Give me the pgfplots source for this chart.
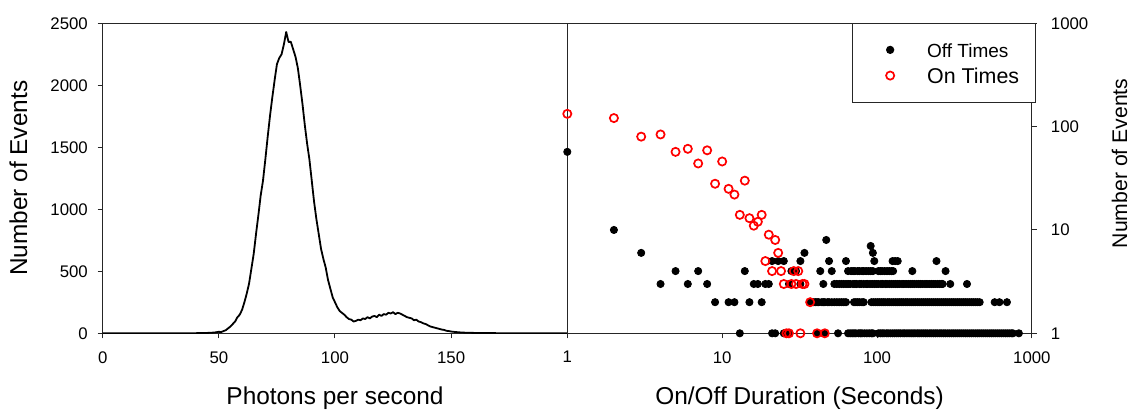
\documentclass[border=0pt]{standalone}
\usepackage{fontspec}
\setmainfont{Liberation Sans}
\usepackage{pgfplots}
\pgfplotsset{compat=1.18}
\begin{document}
\begin{tikzpicture}
\path[use as bounding box] (0pt,0pt) rectangle (566pt,205.5pt);
\pgfplotsset{
  panel/.style={
    scale only axis, width=232.3pt, height=155pt,
    axis line style={line width=0.5pt, black!85},
    every tick/.style={line width=0.5pt, black!85},
    tick align=outside, major tick length=2.5pt, minor tick length=0pt,
    ticklabel style={font=\fontsize{8.4}{10}\selectfont},
    /pgf/number format/assume math mode=true,
    /pgf/number format/1000 sep={},
    label style={font=\fontsize{12.2}{14}\selectfont},
  }
}
% ---------------- left panel ----------------
\begin{axis}[panel,
  at={(51.35pt,38.85pt)}, anchor=south west,
  xmin=0, xmax=200, ymin=0, ymax=2500,
  xtick={0,50,100,150}, ytick={0,500,1000,1500,2000,2500},
  xtick pos=bottom, ytick pos=left,
  xticklabel style={yshift=-3pt},
  yticklabel style={xshift=-1.4pt},
  xlabel={Photons per second},
  ylabel={Number of Events},
  xlabel style={at={(axis description cs:0.5,-0.2313)}, anchor=base},
  ylabel style={at={(axis description cs:-0.1817,0.5)}, anchor=center},
]
\addplot[black, line width=0.9pt, line join=round] coordinates {
(0,0) (30,0) (40,1) (45,3) (48,6) (50,12) (51,10) (52,18) (53,25) (54,40)
(55,55) (56,75) (57,95) (58,130) (59,150) (60,190) (61,250) (62,320) (63,400)
(64,520) (65,640) (66,800) (67,950) (68,1110) (69,1230) (70,1400) (71,1580)
(72,1750) (73,1900) (74,2040) (75,2170) (76,2220) (77,2250) (78,2330) (79,2430)
(80,2350) (81,2350) (82,2290) (83,2230) (84,2140) (85,2000) (86,1850) (87,1680)
(88,1530) (89,1400) (90,1230) (91,1060) (92,920) (93,800) (94,680) (95,600)
(96,530) (97,430) (98,360) (99,290) (100,250) (101,210) (102,180) (103,165)
(104,150) (105,130) (106,115) (107,110) (108,95) (109,100) (110,110) (111,105)
(112,120) (113,115) (114,130) (115,120) (116,135) (117,140) (118,130) (119,150)
(120,140) (121,155) (122,150) (123,165) (124,160) (125,170) (126,155) (127,165)
(128,160) (129,150) (130,140) (131,130) (132,125) (133,120) (134,105) (135,110)
(136,95) (137,90) (138,80) (139,75) (140,65) (141,55) (142,50) (143,45) (144,40)
(145,35) (146,30) (147,27) (148,20) (149,18) (150,14) (152,10) (154,7) (156,5)
(160,3) (165,2) (170,1) (180,0) (200,0)
};
\end{axis}
% ---------------- right panel ----------------
\begin{axis}[panel,
  at={(283.65pt,38.85pt)}, anchor=south west,
  xmode=log, ymode=log,
  xmin=1, xmax=1000, ymin=1, ymax=1000,
  xtick={1,10,100,1000}, xticklabels={1,10,100,1000},
  ytick={1,10,100,1000}, yticklabels={1,10,100,1000},
  xtick pos=bottom, ytick pos=right,
  xticklabel style={yshift=-3pt},
  yticklabel style={xshift=3.5pt},
  clip=false,
  xlabel={On/Off Duration (Seconds)},
  ylabel={Number of Events},
  xlabel style={at={(axis description cs:0.5,-0.2313)}, anchor=base},
  ylabel style={at={(axis description cs:1.1888,0.548)}, anchor=center,
    font=\fontsize{10.6}{12}\selectfont},
  legend image code/.code={\path[draw=none,fill=none] (0pt,-1pt) rectangle (29.5pt,1pt);
    \draw[#1] plot coordinates {(11pt,0pt)};},
  legend style={at={(1.008,1.002)}, anchor=north east, draw=black!85,
    line width=0.5pt, inner xsep=8pt, inner ysep=8.1pt, row sep=2.35pt,
    cells={anchor=west},
    nodes={inner sep=0pt, text height=9pt, text depth=1.5pt}},
]
\addlegendimage{only marks, mark=*, mark size=1.8pt, black}
\addlegendentry{\fontsize{9.5}{11}\selectfont Off Times}
\addlegendimage{only marks, mark=o, mark size=2.05pt, red, mark options={line width=0.85pt}}
\addlegendentry{\fontsize{10.7}{12}\selectfont On Times}
% Off times (black dots)
\addplot[only marks, mark=*, mark size=1.8pt, black, forget plot] coordinates {
(1,57) (2,10) (3,6) (34,6) (94,6) (91,7) (47,8)
(21,5) (23,5) (25,5) (32,5) (49,5) (63,5) (96,5) (126,5) (131,5) (136,5) (242,5)
(5,4) (7,4) (14,4) (28,4) (30,4) (43,4) (51,4)
(65,4) (68,4) (70,4) (72,4) (75,4) (77,4) (80,4) (82,4) (85,4) (88,4) (91,4) (94,4)
(102,4) (105,4) (108,4) (112,4) (116,4) (120,4) (124,4) (127,4) (169,4) (277,4)
(4,3) (6,3) (8,3) (16,3) (17,3) (19,3) (20,3) (27,3) (32,3) (45,3)
(53,3) (55,3) (57,3) (59,3) (61,3) (63,3) (65,3) (67,3) (70,3) (72,3) (74,3) (77,3)
(79,3) (82,3) (85,3) (87,3) (90,3) (93,3) (96,3) (99,3) (102,3) (106,3) (109,3)
(113,3) (116,3) (120,3) (124,3) (128,3) (132,3) (136,3) (140,3) (145,3) (149,3)
(154,3) (159,3) (164,3) (169,3) (174,3) (180,3) (186,3) (191,3) (197,3) (204,3)
(210,3) (217,3) (224,3) (231,3) (238,3) (246,3) (254,3) (262,3) (265,3) (297,3) (381,3)
(9,2) (11,2) (12,2) (15,2) (18,2) (37,2)
(39,2) (40,2) (41,2) (42,2) (44,2) (45,2) (46,2) (48,2) (49,2) (51,2) (53,2) (55,2)
(57,2) (59,2) (61,2) (63,2) (71,2) (73,2) (75,2) (77,2) (80,2) (82,2)
(92,2) (95,2) (98,2) (101,2) (104,2) (107,2) (110,2) (113,2) (117,2) (120,2) (124,2)
(128,2) (132,2) (136,2) (140,2) (144,2) (148,2) (153,2) (157,2) (162,2) (167,2)
(172,2) (177,2) (183,2) (188,2) (194,2) (200,2) (206,2) (212,2) (218,2) (225,2)
(232,2) (239,2) (246,2) (253,2) (261,2) (269,2) (277,2) (285,2) (294,2) (303,2)
(312,2) (321,2) (331,2) (341,2) (351,2) (362,2) (373,2) (384,2) (396,2) (408,2)
(420,2) (433,2) (446,2) (460,2) (575,2) (617,2) (690,2)
(13,1) (21,1) (22,1) (25,1) (27,1) (41,1) (46,1) (56,1)
(65,1) (67,1) (69,1) (71,1) (73,1) (76,1) (78,1) (80,1) (83,1) (86,1) (89,1) (92,1) (94,1)
(102,1) (105,1) (108,1) (111,1) (115,1) (118,1) (122,1) (126,1) (130,1) (134,1)
(138,1) (142,1) (147,1) (151,1) (156,1) (161,1) (166,1) (171,1) (176,1) (182,1)
(187,1) (193,1) (199,1) (205,1) (211,1) (218,1) (224,1) (231,1) (238,1) (245,1)
(253,1) (260,1) (268,1) (276,1) (285,1) (294,1) (303,1) (312,1) (321,1) (331,1)
(341,1) (351,1) (362,1) (373,1) (384,1) (396,1) (408,1) (420,1) (433,1) (446,1)
(459,1) (473,1) (487,1) (502,1) (517,1) (533,1) (549,1) (565,1) (582,1) (600,1)
(618,1) (637,1) (656,1) (676,1) (696,1) (717,1) (739,1) (754,1) (824,1)
};
% On times (red open circles)
\addplot[only marks, mark=o, mark size=2.05pt, red, mark options={line width=0.85pt}, forget plot] coordinates {
(1,133) (2,121) (3,80) (4,84) (5,57) (6,61) (7,44) (8,59) (9,28) (10,46)
(11,25) (12,22) (13,14) (14,30) (15,13) (16,11) (17,12) (18,14) (19,5) (20,9)
(21,4) (22,8) (23,6) (24,4) (29,4) (31,4)
(25,3) (28,3) (30,3) (33,3) (34,3) (37,2)
(26,1) (27,1) (32,1) (41,1) (46,1)
};
\end{axis}
\end{tikzpicture}
\end{document}
